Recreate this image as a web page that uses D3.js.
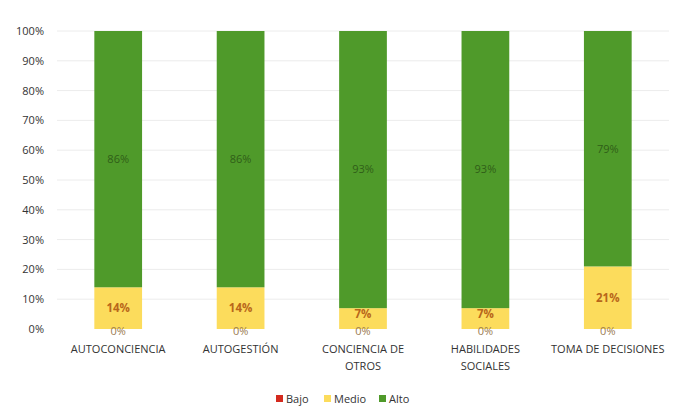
<!DOCTYPE html>
<html><head><meta charset="utf-8">
<script src="https://cdn.jsdelivr.net/npm/d3@7"></script>
<style>body{margin:0;background:#fff}svg{display:block}</style>
</head><body><svg id="c" width="686" height="408"></svg>
<script>
const categories = [["AUTOCONCIENCIA"],["AUTOGESTIÓN"],["CONCIENCIA DE","OTROS"],["HABILIDADES","SOCIALES"],["TOMA DE DECISIONES"]];
const bajo = [0,0,0,0,0];
const medio = [14,14,7,7,21];
const alto = [86,86,93,93,79];
const yTicks = [0,10,20,30,40,50,60,70,80,90,100];
const seriesNames = ["Bajo","Medio","Alto"];
const colors = {Bajo:"#d42a1e", Medio:"#fcdc5c", Alto:"#4f9a2a"};

const svg = d3.select("#c");
const font = "'Open Sans', sans-serif";
const x = d3.scaleBand().domain(d3.range(categories.length)).range([57,669]).paddingInner(0.61).paddingOuter(0.305);
const y = d3.scaleLinear().domain([0,100]).range([329,31]);

// gridlines
svg.append("g").selectAll("line").data(yTicks.slice(1)).join("line")
  .attr("x1",57).attr("x2",669).attr("y1",d=>y(d)).attr("y2",d=>y(d))
  .attr("stroke","#ececec").attr("stroke-width",1);

// y axis
const ya = svg.append("g").attr("transform","translate(44,0)")
  .call(d3.axisLeft(y).tickValues(yTicks).tickFormat(d=>d+"%").tickSize(0).tickPadding(0));
ya.select(".domain").remove();
ya.selectAll("text").attr("font-family",font).attr("font-size",11).attr("fill","#333").attr("dx",0);

// stacked data
const rows = categories.map((c,i)=>({i, Bajo:bajo[i], Medio:medio[i], Alto:alto[i]}));
const stack = d3.stack().keys(seriesNames)(rows);

svg.append("g").selectAll("g").data(stack).join("g")
  .attr("fill",d=>colors[d.key])
  .selectAll("rect").data(d=>d).join("rect")
  .attr("x",d=>x(d.data.i)).attr("width",x.bandwidth())
  .attr("y",d=>y(d[1])).attr("height",d=>y(d[0])-y(d[1]));

// labels
const lab = svg.append("g").attr("font-family",font).attr("text-anchor","middle");
stack.forEach(s=>{
  s.forEach(d=>{
    const v = d.data[s.key];
    const cx = x(d.data.i)+x.bandwidth()/2;
    let cy = (y(d[0])+y(d[1]))/2;
    let fill="#2f5e18", weight="normal", size=11;
    if(s.key==="Bajo"){ cy = y(0)+2; fill="#9a7a50"; }
    if(s.key==="Medio"){ fill="#b8661a"; weight="bold"; size=11.5; if(v<10) cy = y(d[1])+6; }
    lab.append("text").attr("x",cx).attr("y",cy).attr("dy","0.35em")
      .attr("font-size",size).attr("font-weight",weight).attr("fill",fill).text(v+"%");
  });
});

// category labels
const cl = svg.append("g").attr("font-family",font).attr("font-size",11).attr("fill","#333").attr("text-anchor","middle");
categories.forEach((c,i)=>{
  const t = cl.append("text").attr("x",x(i)+x.bandwidth()/2).attr("y",353);
  c.forEach((line,k)=>t.append("tspan").attr("x",x(i)+x.bandwidth()/2).attr("dy",k?17:0).text(line));
});

// legend
const legX = [276,324,379];
const lg = svg.append("g").attr("font-family",font).attr("font-size",11).attr("fill","#333");
seriesNames.forEach((n,k)=>{
  lg.append("rect").attr("x",legX[k]).attr("y",395).attr("width",7).attr("height",7).attr("fill",colors[n]);
  lg.append("text").attr("x",legX[k]+10).attr("y",399).attr("dy","0.35em").text(n);
});
</script></body></html>
